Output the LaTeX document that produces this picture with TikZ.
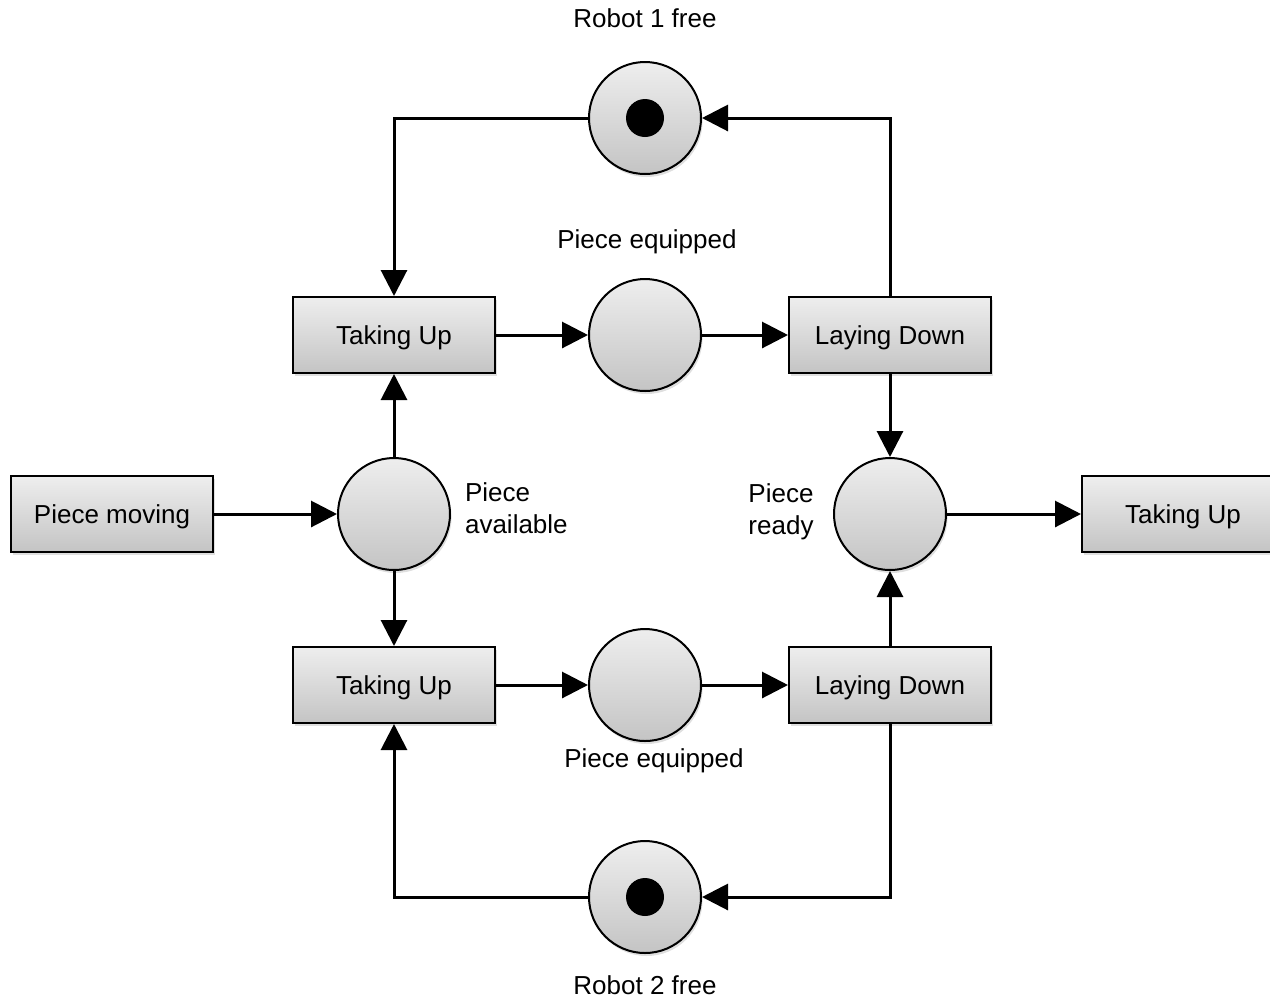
\documentclass[tikz,border=0pt]{standalone}
\usepackage{fontspec}
\setmainfont{Liberation Sans}
\usetikzlibrary{arrows.meta,positioning,shadows}
\definecolor{shadetop}{RGB}{238,238,238}
\definecolor{shadebottom}{RGB}{196,196,196}

\begin{document}
\begin{tikzpicture}[x=0.5pt,y=-0.5pt,
  font=\fontsize{13}{16}\selectfont,
  trans/.style={draw,line width=1pt,rectangle,minimum width=101pt,minimum height=38pt,
    text height=2.1ex,text depth=0.25ex,
    top color=shadetop,bottom color=shadebottom,
    drop shadow={shadow xshift=0.8pt,shadow yshift=-1.5pt,opacity=0.25}},
  place/.style={draw,line width=1pt,circle,minimum size=56pt,inner sep=0pt,
    top color=shadetop,bottom color=shadebottom,
    drop shadow={shadow xshift=0.8pt,shadow yshift=-1.5pt,opacity=0.25}},
  token/.style={circle,fill=black,minimum size=19pt,inner sep=0pt},
  arc/.style={line width=1.5pt,-{Triangle[length=13pt,width=13pt]}}]
  \useasboundingbox (0,0) rectangle (1270,998);

  % Transitions
  \node[trans] (tu1) at (394,335) {Taking Up};
  \node[trans] (ld1) at (890,335) {Laying Down};
  \node[trans] (pm) at (112,514) {Piece moving};
  \node[trans] (tu3) at (1183,514) {Taking Up};
  \node[trans] (tu2) at (394,685) {Taking Up};
  \node[trans] (ld2) at (890,685) {Laying Down};

  % Places
  \node[place] (r1) at (645,118) {};
  \node[token] (r1tok) at (r1.center) {};
  \node[place] (pe1) at (645,335) {};
  \node[place] (pa) at (394,514) {};
  \node[place] (pr) at (890,514) {};
  \node[place] (pe2) at (645,685) {};
  \node[place] (r2) at (645,897) {};
  \node[token] (r2tok) at (r2.center) {};

  % Labels
  \node (r1lab) at (645,18) {Robot 1 free};
  \node (pe1lab) at (647,242) {Piece equipped};
  \node[align=left,anchor=west] (palab) at (458,508) {Piece\\available};
  \node[align=center] (prlab) at (781,512) {Piece\\ready};
  \node (pe2lab) at (654,761) {Piece equipped};
  \node (r2lab) at (645,985) {Robot 2 free};

  % Arcs
  \draw[arc] (pm.east) -- (pa.west);
  \draw[arc] (pa.north) -- (tu1.south);
  \draw[arc] (pa.south) -- (tu2.north);
  \draw[arc] (tu1.east) -- (pe1.west);
  \draw[arc] (pe1.east) -- (ld1.west);
  \draw[arc] (tu2.east) -- (pe2.west);
  \draw[arc] (pe2.east) -- (ld2.west);
  \draw[arc] (ld1.south) -- (pr.north);
  \draw[arc] (ld2.north) -- (pr.south);
  \draw[arc] (pr.east) -- (tu3.west);
  \draw[arc] (r1.west) -| (tu1.north);
  \draw[arc] (ld1.north) |- (r1.east);
  \draw[arc] (r2.west) -| (tu2.south);
  \draw[arc] (ld2.south) |- (r2.east);
\end{tikzpicture}
\end{document}
